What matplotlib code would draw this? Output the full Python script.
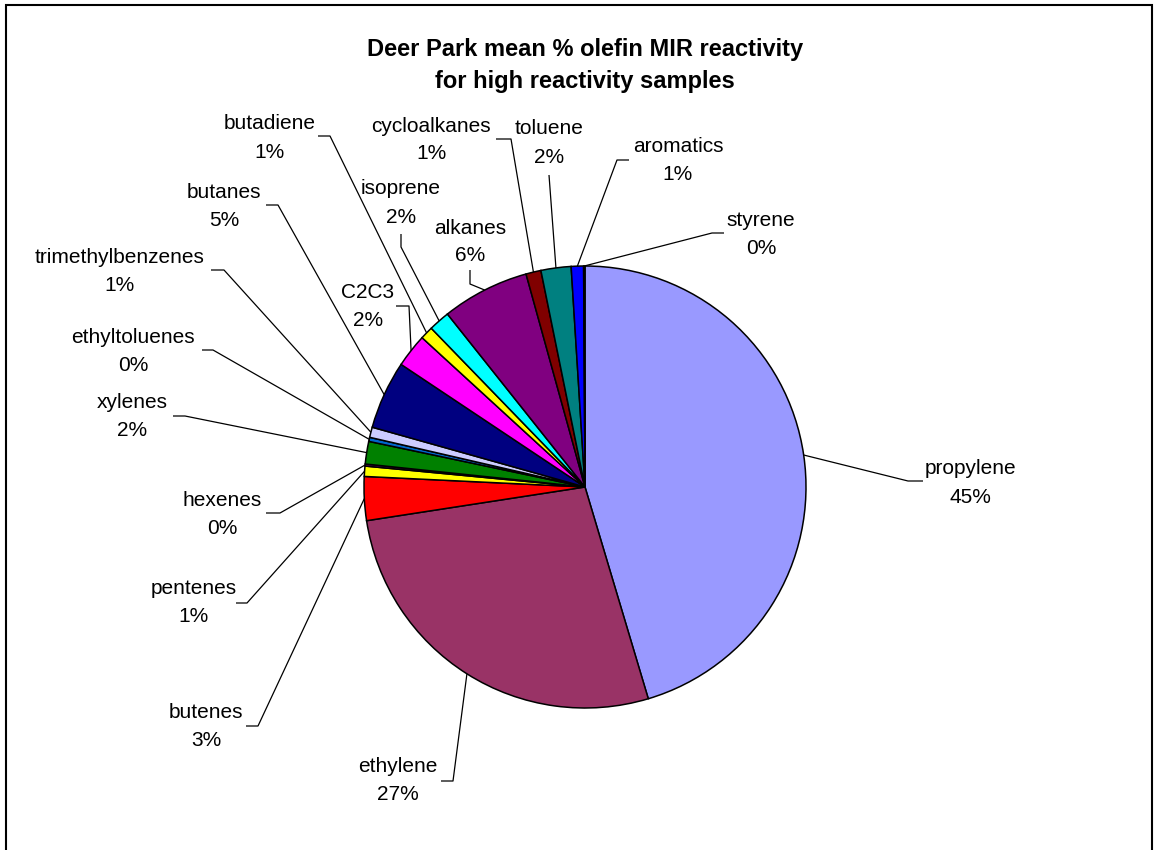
import numpy as np
import matplotlib.pyplot as plt
from matplotlib.patches import Rectangle

# mean share of olefin MIR reactivity (%), clockwise from 12 o'clock
species = ['propylene', 'ethylene', 'butenes', 'pentenes', 'hexenes', 'xylenes',
           'ethyltoluenes', 'trimethylbenzenes', 'butanes', 'C2C3', 'butadiene',
           'isoprene', 'alkanes', 'cycloalkanes', 'toluene', 'aromatics', 'styrene']
share = [45.4, 27.2, 3.2, 0.75, 0.15, 1.65, 0.3, 0.75, 5.0, 2.45, 0.95,
         1.55, 6.4, 1.1, 2.2, 0.9, 0.1]
colors = ['#9999FF', '#993366', '#FF0000', '#FFFF00', '#660066', '#008000',
          '#0066CC', '#CCCCFF', '#000080', '#FF00FF', '#FFFF00', '#00FFFF',
          '#800080', '#800000', '#008080', '#0000FF', '#00CCFF']

title = 'Deer Park mean % olefin MIR reactivity\nfor high reactivity samples'

# canvas is laid out in pixels, y measured down from the top edge
W, H = 1158, 850
cx, cy, r = 585, 487, 221

# label placement: text centre x, name row y, percent row y, leader bend points
label_layout = {
    'propylene':         (970, 468, 497, [(908, 481), (923, 481)]),
    'ethylene':          (398, 767, 795, [(453, 781), (441, 781)]),
    'butenes':           (206, 712, 740, [(258, 726), (246, 726)]),
    'pentenes':          (194, 589, 617, [(247, 603), (236, 603)]),
    'hexenes':           (222, 500, 528, [(280, 513), (266, 513)]),
    'xylenes':           (132, 402, 430, [(185, 416), (173, 416)]),
    'ethyltoluenes':     (133, 337, 365, [(213, 350), (202, 350)]),
    'trimethylbenzenes': (120, 257, 285, [(224, 270), (211, 270)]),
    'butanes':           (224, 192, 220, [(278, 205), (266, 205)]),
    'C2C3':              (368, 292, 320, [(409, 306), (396, 306)]),
    'butadiene':         (270, 123, 152, [(330, 136), (318, 136)]),
    'isoprene':          (401, 188, 217, [(401, 247), (401, 234)]),
    'alkanes':           (470, 228, 255, [(470, 284), (470, 270)]),
    'cycloalkanes':      (431, 126, 153, [(511, 139), (496, 139)]),
    'toluene':           (549, 128, 157, [(549, 175)]),
    'aromatics':         (678, 146, 174, [(617, 160), (629, 160)]),
    'styrene':           (761, 220, 248, [(712, 233), (724, 233)]),
}


def Y(y):
    return H - y


plt.rcParams['font.family'] = ['Liberation Sans', 'DejaVu Sans']

fig = plt.figure(figsize=(W / 100, H / 100), dpi=100)
ax = fig.add_axes([0, 0, 1, 1])

wedges, _ = ax.pie(share, colors=colors, startangle=90, counterclock=False,
                   center=(cx, Y(cy)), radius=r,
                   wedgeprops=dict(edgecolor='black', linewidth=1.1))

total = sum(share)
for name, val, w in zip(species, share, wedges):
    tx, ny, py, bends = label_layout[name]
    mid = np.deg2rad((w.theta1 + w.theta2) / 2)
    xs = [cx + r * np.cos(mid)] + [b[0] for b in bends]
    ys = [Y(cy) + r * np.sin(mid)] + [Y(b[1]) for b in bends]
    ax.plot(xs, ys, color='black', lw=0.9, solid_capstyle='butt')
    pct = int(100 * val / total + 0.5)
    ax.text(tx, Y(ny), name, ha='center', va='center', fontsize=15)
    ax.text(tx, Y(py), f'{pct}%', ha='center', va='center', fontsize=15)

line1, line2 = title.split('\n')
ax.text(585, Y(49), line1, ha='center', va='center', fontsize=17, fontweight='bold')
ax.text(585, Y(81), line2, ha='center', va='center', fontsize=17, fontweight='bold')

# chart area border (bottom edge runs off the canvas)
ax.add_patch(Rectangle((6, -10), 1146, Y(5) + 10, fill=False,
                       edgecolor='black', linewidth=1.5))

ax.set_xlim(0, W)
ax.set_ylim(0, H)
ax.set_aspect('equal')
ax.axis('off')

fig.savefig('out.png', dpi=100)
